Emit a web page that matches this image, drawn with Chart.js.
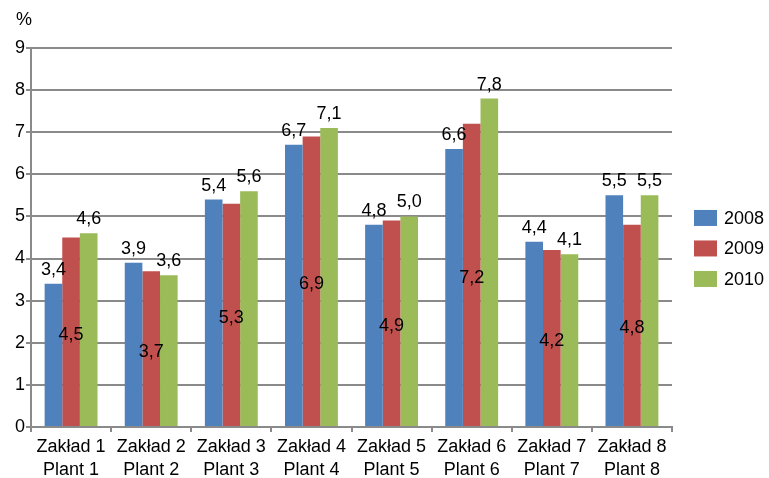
<!DOCTYPE html>
<html>
<head>
<meta charset="utf-8">
<script src="https://cdn.jsdelivr.net/npm/chart.js@4"></script>
<style>
  html, body { margin: 0; padding: 0; background: #fff; overflow: hidden; }
  #wrap { width: 769px; height: 485px; }
</style>
</head>
<body>
<div id="wrap"><canvas id="chart"></canvas></div>
<script>
const categories = [
  ['Zakład 1', 'Plant 1'], ['Zakład 2', 'Plant 2'], ['Zakład 3', 'Plant 3'], ['Zakład 4', 'Plant 4'],
  ['Zakład 5', 'Plant 5'], ['Zakład 6', 'Plant 6'], ['Zakład 7', 'Plant 7'], ['Zakład 8', 'Plant 8']
]
const years = ['2008', '2009', '2010']
const values2008 = [3.4, 3.9, 5.4, 6.7, 4.8, 6.6, 4.4, 5.5]
const values2009 = [4.5, 3.7, 5.3, 6.9, 4.9, 7.2, 4.2, 4.8]
const values2010 = [4.6, 3.6, 5.6, 7.1, 5.0, 7.8, 4.1, 5.5]
const colors = ['#4F81BD', '#C0504D', '#9BBB59']

const font = 'Liberation Sans, Arial, sans-serif'
const gridColor = '#8a8a8a'

// value labels: 2009 sits in the middle of its bar, the others above
const valueLabels = {
  id: 'valueLabels',
  afterDatasetsDraw(chart) {
    const ctx = chart.ctx
    ctx.save()
    ctx.font = '18px ' + font
    ctx.fillStyle = '#000'
    ctx.textAlign = 'center'
    ctx.textBaseline = 'alphabetic'
    chart.data.datasets.forEach((ds, i) => {
      chart.getDatasetMeta(i).data.forEach((bar, j) => {
        const text = ds.data[j].toFixed(1).replace('.', ',')
        if (i === 1) {
          ctx.fillText(text, bar.x, (bar.y + bar.base) / 2 + 8)
        } else {
          ctx.fillText(text, bar.x, bar.y - 9)
        }
      })
    })
    ctx.restore()
  },
  afterDraw(chart) {
    const ctx = chart.ctx
    const area = chart.chartArea
    ctx.save()
    ctx.font = '18px ' + font
    ctx.fillStyle = '#000'
    ctx.textBaseline = 'middle'
    ctx.textAlign = 'left'
    ctx.fillText('%', 16, 20)
    // legend
    const x0 = area.right + 22
    const midY = (area.top + area.bottom) / 2
    chart.data.datasets.forEach((ds, i) => {
      const y = midY + (i - 1) * 30.5 + 11
      ctx.fillStyle = ds.backgroundColor
      ctx.fillRect(x0, y - 8, 23, 16)
      ctx.fillStyle = '#000'
      ctx.fillText(ds.label, x0 + 30, y + 1)
    })
    ctx.restore()
  }
}

new Chart(document.getElementById('chart'), {
  type: 'bar',
  data: {
    labels: categories,
    datasets: [
      { label: years[0], data: values2008, backgroundColor: colors[0] },
      { label: years[1], data: values2009, backgroundColor: colors[1] },
      { label: years[2], data: values2010, backgroundColor: colors[2] }
    ]
  },
  options: {
    responsive: true,
    maintainAspectRatio: false,
    animation: false,
    layout: { padding: { top: 48, left: 14, right: 97, bottom: 0 } },
    datasets: { bar: { barPercentage: 1, categoryPercentage: 0.66 } },
    plugins: {
      legend: { display: false },
      tooltip: { enabled: false }
    },
    scales: {
      x: {
        grid: { display: true, drawOnChartArea: false, drawTicks: true, tickLength: 5, color: gridColor, lineWidth: 2 },
        border: { color: gridColor, width: 2 },
        ticks: { color: '#000', font: { family: font, size: 18, lineHeight: 1.28 }, padding: 3.5, maxRotation: 0, autoSkip: false }
      },
      y: {
        min: 0,
        max: 9,
        grid: { color: gridColor, lineWidth: 2, tickLength: 5 },
        border: { color: gridColor, width: 2 },
        ticks: { stepSize: 1, color: '#000', font: { family: font, size: 18 }, padding: 1 }
      }
    }
  },
  plugins: [valueLabels]
})
</script>
</body>
</html>
